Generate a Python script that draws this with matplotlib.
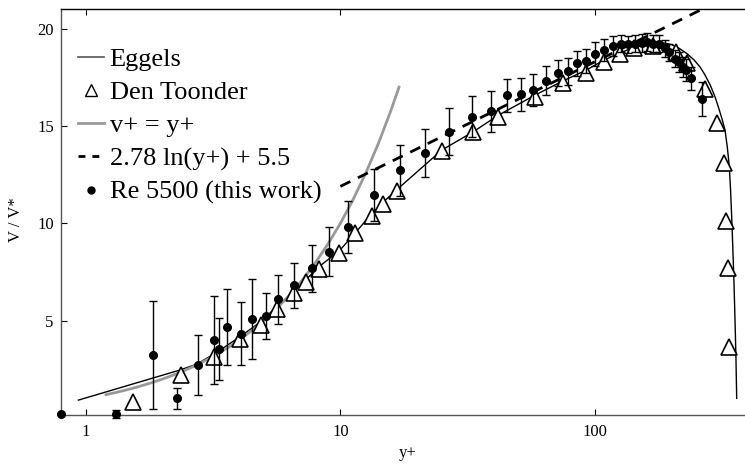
import matplotlib
matplotlib.use("Agg")
import matplotlib.pyplot as plt
from matplotlib.lines import Line2D

plt.rcParams['font.family'] = ['Liberation Serif', 'DejaVu Serif']

# Eggels (DNS) profile
eggels_x = [0.935, 2.35, 2.73, 3.22, 4.04, 4.87, 5.62, 6.63, 8.23, 9.91, 11.45, 13.3, 14.75, 16.9,
            25.0, 33.3, 41.8, 58.2, 74.7, 92.3, 108.6, 125.6, 142.5, 168.7, 185, 200.3, 215, 230,
            245, 258.7, 270, 284, 296.4, 306, 316, 324.5, 331, 337.3, 341, 344.6, 348, 351.9,
            355, 358, 360.6]
eggels_y = [0.92, 2.47, 2.77, 3.32, 4.18, 4.95, 5.72, 6.54, 7.77, 8.59, 9.52, 10.5, 11.1, 11.8,
            13.76, 14.71, 15.56, 16.59, 17.31, 17.87, 18.39, 18.76, 19.04, 19.24, 19.28, 19.18, 18.98, 18.72,
            18.40, 18.04, 17.65, 17.10, 16.50, 15.95, 15.35, 14.79, 13.95, 12.91, 11.75, 10.34, 8.80, 6.92,
            5.10, 3.20, 1.01]

# Den Toonder
toonder_x = [1.53, 2.37, 3.20, 4.04, 4.87, 5.62, 6.58, 7.33, 8.23, 9.91, 11.45, 13.28, 14.75, 16.75,
             25.0, 33.3, 41.8, 58.2, 74.7, 92.3, 108.6, 125.6, 142.5, 168.7, 208, 230.6, 270.5,
             300.8, 321.2, 327.4, 332.3, 336.5]
toonder_y = [0.81, 2.21, 3.15, 4.04, 4.79, 5.58, 6.44, 6.98, 7.64, 8.49, 9.49, 10.37, 10.99, 11.67,
             13.71, 14.67, 15.48, 16.47, 17.22, 17.74, 18.30, 18.70, 18.99, 19.12, 18.81, 18.22, 16.88,
             15.17, 13.11, 10.13, 7.69, 3.63]

# viscous sublayer v+ = y+
visc_x = [1.2, 1.3, 1.4, 1.5, 1.6, 1.8, 2.0, 2.2, 2.5, 2.8, 3.2, 3.6, 4.0, 4.5, 5.0, 5.6, 6.3,
          7.1, 8.0, 9.0, 10.0, 11.2, 12.6, 14.1, 15.8, 17.0]
visc_y = [1.2, 1.3, 1.4, 1.5, 1.6, 1.8, 2.0, 2.2, 2.5, 2.8, 3.2, 3.6, 4.0, 4.5, 5.0, 5.6, 6.3,
          7.1, 8.0, 9.0, 10.0, 11.2, 12.6, 14.1, 15.8, 17.0]

# log law 2.78 ln(y+) + 5.5
log_x = [10.0, 300.0]
log_y = [11.90, 21.36]

# Re 5500 (this work)
re_x = [0.80, 1.315, 1.84, 2.29, 2.75, 3.19, 3.34, 3.60, 4.06, 4.50, 5.11, 5.67, 6.59, 7.72, 9.03,
        10.75, 13.5, 17.2, 21.5, 26.7, 32.8, 39.0, 45.1, 51.3, 57.3, 64.3, 71.5, 78.2, 85.3, 92.2,
        100, 108.9, 117.5, 126.3, 135.2, 143.7, 152.6, 159.7, 169.4, 178.9, 188.5, 196, 206.5,
        214.4, 222.3, 227.9, 238.5, 262.5]
re_y = [0.22, 0.22, 3.22, 1.01, 2.72, 4.01, 3.56, 4.66, 4.33, 5.08, 5.24, 6.10, 6.81, 7.69, 8.54,
        9.83, 11.47, 12.74, 13.63, 14.71, 15.48, 15.77, 16.59, 16.64, 16.85, 17.33, 17.74, 17.82,
        18.22, 18.35, 18.70, 18.90, 19.11, 19.24, 19.19, 19.24, 19.28, 19.33, 19.24, 19.24, 18.99,
        18.78, 18.47, 18.30, 18.04, 17.87, 17.45, 16.38]
re_err = [0.0, 0.2, 2.78, 0.53, 1.56, 2.27, 1.6, 1.95, 1.63, 2.05, 1.2, 1.25, 1.17, 1.2, 1.25,
          1.33, 1.33, 1.31, 1.23, 1.2, 1.05, 1.05, 0.85, 0.85, 0.8, 0.75, 0.66, 0.69, 0.63, 0.62,
          0.6, 0.55, 0.5, 0.45, 0.45, 0.45, 0.45, 0.45, 0.45, 0.45, 0.45, 0.45, 0.45,
          0.5, 0.5, 0.55, 0.6, 0.88]

labels = ["Eggels", "Den Toonder", "v+ = y+", "2.78 ln(y+) + 5.5", "Re 5500 (this work)"]

fig = plt.figure(figsize=(7.45, 4.68), dpi=100)
ax = fig.add_axes([0.0815, 0.1122, 0.9185, 0.868])

ax.plot(eggels_x, eggels_y, color='black', lw=1.0, zorder=2)
ax.plot(visc_x, visc_y, color='#999999', lw=2.0, zorder=2)
ax.plot(log_x, log_y, color='black', lw=2.0, ls=(0, (4, 3)), zorder=2)
ax.plot(toonder_x, toonder_y, ls='none', marker='^', ms=11.5, mfc='white', mec='black',
        mew=1.2, zorder=3)
ax.errorbar(re_x, re_y, yerr=re_err, fmt='o', color='black', ms=5.5, elinewidth=1.0,
            capsize=3, capthick=1.0, zorder=4, clip_on=False)

ax.set_xscale('log')
ax.set_xlim(0.797, 388.7)
ax.set_ylim(0.13, 21.0)
ax.set_xticks([1, 10, 100])
ax.set_xticklabels(['1', '10', '100'])
ax.xaxis.set_minor_locator(matplotlib.ticker.NullLocator())
ax.set_yticks([5, 10, 15, 20])
ax.tick_params(axis='both', direction='in', length=4, width=0.8, labelsize=12, pad=5)
ax.tick_params(axis='x', top=True, pad=6)

ax.spines['right'].set_visible(False)
ax.spines['left'].set_color('#555555')
ax.spines['bottom'].set_color('#555555')
ax.spines['top'].set_color('black')
for s in ax.spines.values():
    s.set_linewidth(1.0)

fig.text(408 / 745, 1 - 453 / 468, 'y+', ha='center', va='center', fontsize=12)
fig.text(16 / 745, 1 - 220 / 468, 'V / V*', ha='center', va='center', fontsize=12, rotation=90)

handles = [
    Line2D([], [], color='#555555', lw=1.2),
    Line2D([], [], ls='none', marker='^', ms=8, mfc='white', mec='black', mew=1.0),
    Line2D([], [], color='#999999', lw=2.0),
    Line2D([], [], color='black', lw=2.0, ls=(0, (2.5, 2.5))),
    Line2D([], [], ls='none', marker='o', ms=5, color='black'),
]
ax.legend(handles, labels, loc='upper left', bbox_to_anchor=(78 / 745, 1 - 48 / 468),
          bbox_transform=fig.transFigure, frameon=False, fontsize=19, handlelength=1.0,
          handletextpad=0.2, labelspacing=0.36, borderpad=0, borderaxespad=0)

fig.savefig('out.png', dpi=100)
